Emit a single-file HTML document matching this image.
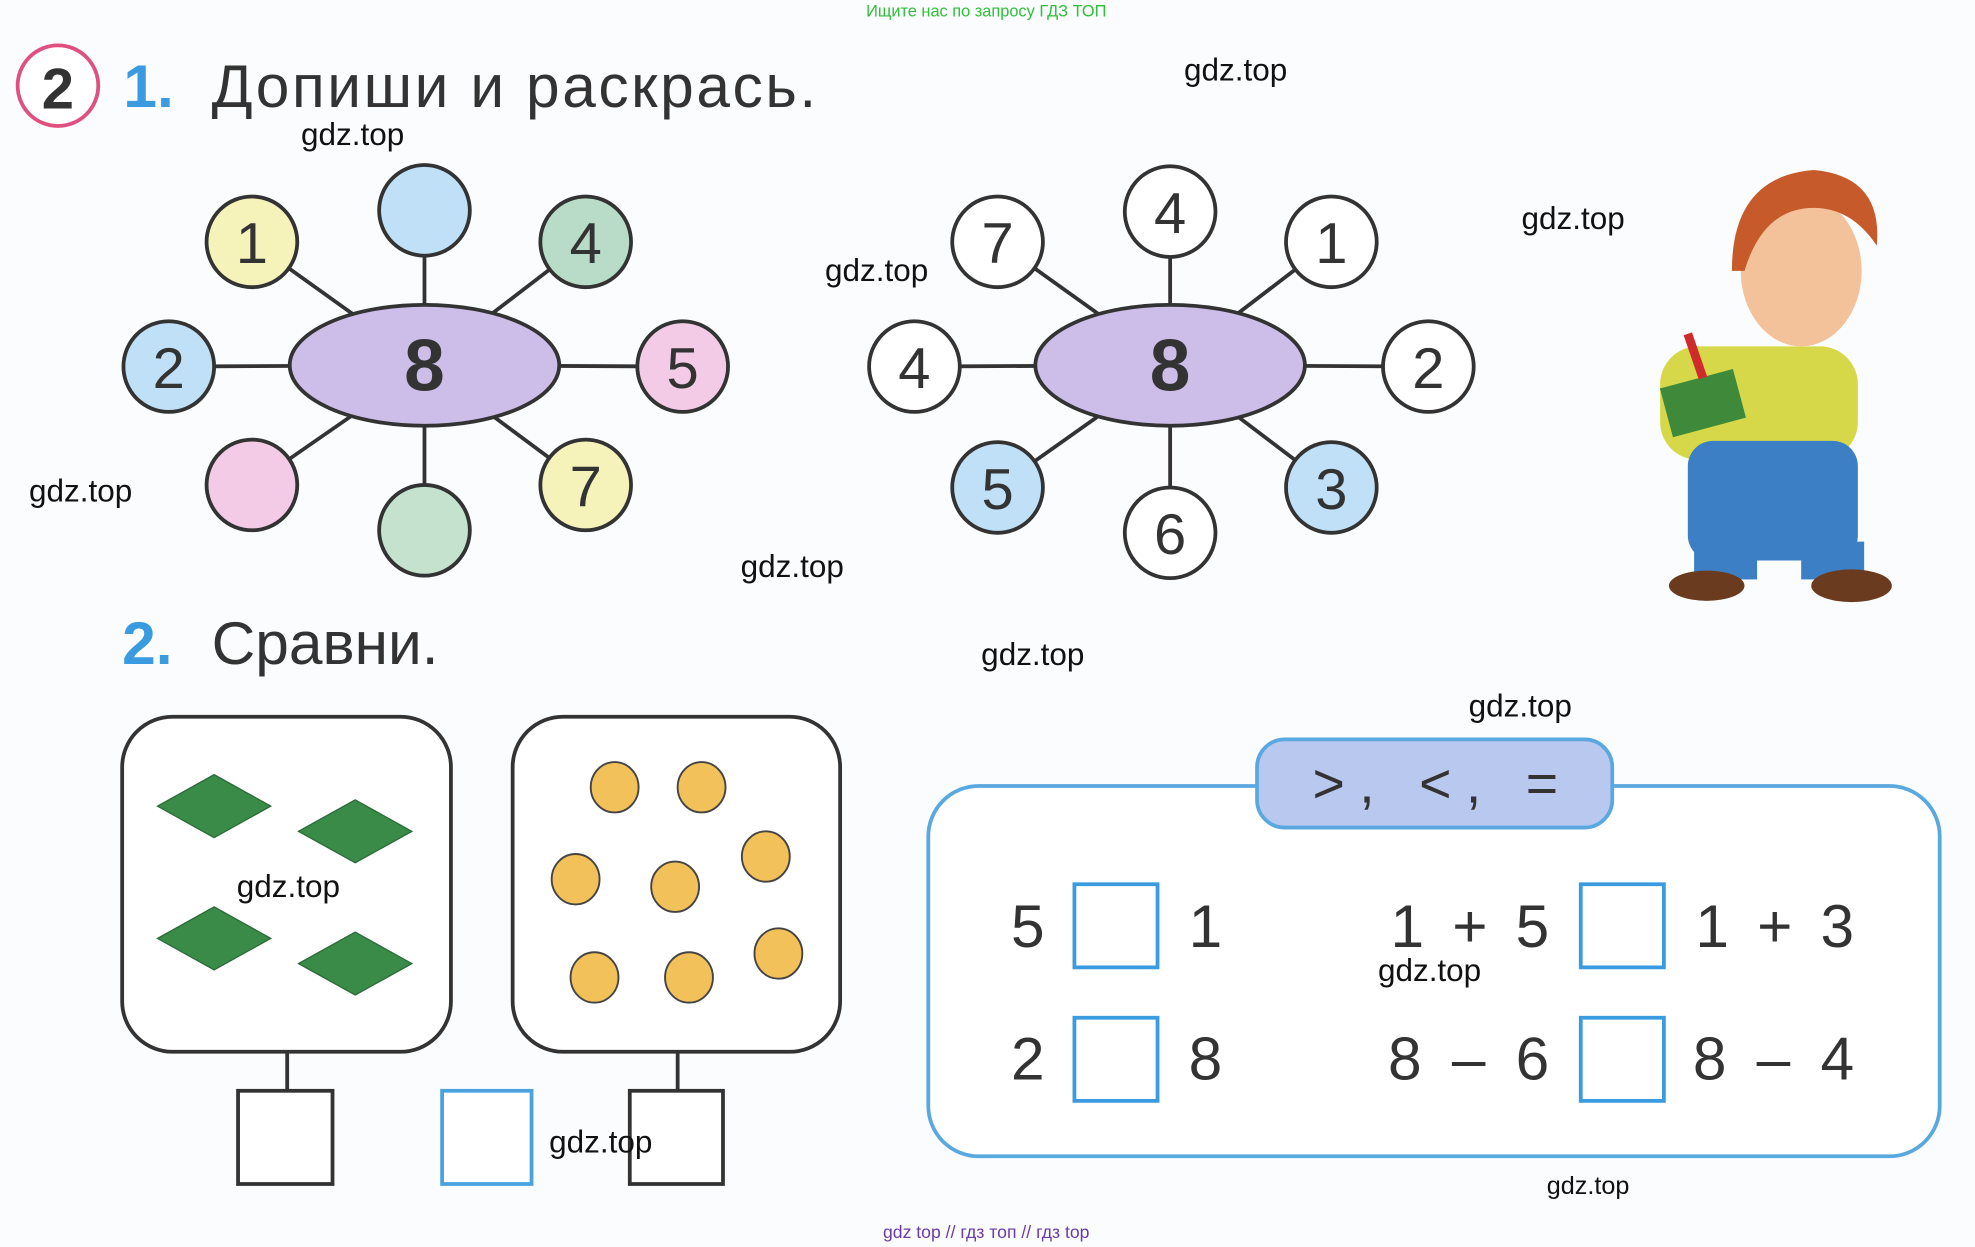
<!DOCTYPE html>
<html><head><meta charset="utf-8"><style>html,body{margin:0;padding:0;background:#fff}svg{display:block}</style></head>
<body>
<svg width="1975" height="1247" viewBox="0 0 1568 990" xmlns="http://www.w3.org/2000/svg" font-family="Liberation Sans, DejaVu Sans, sans-serif">
<rect width="1568" height="990" fill="#fbfcfd"/>
<text x="783" y="13" font-size="13" fill="#2fbf3a" text-anchor="middle">Ищите нас по запросу ГДЗ ТОП</text>
<circle cx="46" cy="68" r="32" fill="#fff" stroke="#e0507f" stroke-width="3"/>
<text x="46" y="86" font-size="46" font-weight="bold" fill="#333" text-anchor="middle">2</text>
<text x="98" y="85" font-size="48" font-weight="bold" fill="#3a9be0">1.</text>
<text x="168" y="85" font-size="48" fill="#333" textLength="480" lengthAdjust="spacing">Допиши  и  раскрась.</text>

<g stroke="#333" stroke-width="3">
<line x1="337" y1="290" x2="200" y2="192"/><line x1="337" y1="290" x2="337" y2="167"/><line x1="337" y1="290" x2="465" y2="192"/>
<line x1="337" y1="290" x2="134" y2="291"/><line x1="337" y1="290" x2="542" y2="291"/><line x1="337" y1="290" x2="200" y2="385"/>
<line x1="337" y1="290" x2="337" y2="421"/><line x1="337" y1="290" x2="465" y2="385"/>
<line x1="929" y1="290" x2="792" y2="192"/><line x1="929" y1="290" x2="929" y2="168"/><line x1="929" y1="290" x2="1057" y2="192"/>
<line x1="929" y1="290" x2="726" y2="291"/><line x1="929" y1="290" x2="1134" y2="291"/><line x1="929" y1="290" x2="792" y2="387"/>
<line x1="929" y1="290" x2="929" y2="423"/><line x1="929" y1="290" x2="1057" y2="387"/>
<ellipse cx="337" cy="290" rx="107" ry="48" fill="#cdbde9"/>
<ellipse cx="929" cy="290" rx="107" ry="48" fill="#cdbde9"/>
<circle cx="200" cy="192" r="36" fill="#f5f3ba"/><circle cx="337" cy="167" r="36" fill="#bfe0f6"/><circle cx="465" cy="192" r="36" fill="#b9dcc8"/>
<circle cx="134" cy="291" r="36" fill="#bfe0f6"/><circle cx="542" cy="291" r="36" fill="#f3cbe6"/><circle cx="200" cy="385" r="36" fill="#f3cbe6"/>
<circle cx="337" cy="421" r="36" fill="#c5e2cf"/><circle cx="465" cy="385" r="36" fill="#f5f3ba"/>
<circle cx="792" cy="192" r="36" fill="#fff"/><circle cx="929" cy="168" r="36" fill="#fff"/><circle cx="1057" cy="192" r="36" fill="#fff"/>
<circle cx="726" cy="291" r="36" fill="#fff"/><circle cx="1134" cy="291" r="36" fill="#fff"/><circle cx="792" cy="387" r="36" fill="#bfe0f6"/>
<circle cx="929" cy="423" r="36" fill="#fff"/><circle cx="1057" cy="387" r="36" fill="#bfe0f6"/>
</g>
<g font-size="46" fill="#333" text-anchor="middle">
<text x="337" y="310" font-size="58" font-weight="bold">8</text><text x="929" y="310" font-size="58" font-weight="bold">8</text>
<text x="200" y="209">1</text><text x="465" y="209">4</text><text x="134" y="308">2</text><text x="542" y="308">5</text><text x="465" y="402">7</text>
<text x="792" y="209">7</text><text x="929" y="185">4</text><text x="1057" y="209">1</text><text x="726" y="308">4</text><text x="1134" y="308">2</text>
<text x="792" y="404">5</text><text x="929" y="440">6</text><text x="1057" y="404">3</text>
</g>

<text x="97" y="527" font-size="48" font-weight="bold" fill="#3a9be0">2.</text>
<text x="168" y="527" font-size="48" fill="#333">Сравни.</text>

<g stroke="#333" stroke-width="3" fill="#fff">
<rect x="97" y="569" width="261" height="266" rx="40"/>
<rect x="407" y="569" width="260" height="266" rx="40"/>
<line x1="228" y1="835" x2="228" y2="866"/><line x1="538" y1="835" x2="538" y2="866"/>
<rect x="189" y="866" width="75" height="74"/><rect x="500" y="866" width="74" height="74"/>
</g>
<rect x="351" y="866" width="71" height="74" fill="#fff" stroke="#4aa3df" stroke-width="3"/>
<g fill="#3a8a48" stroke="#2a6a38" stroke-width="1">
<polygon points="125,640 170,615 215,640 170,665"/><polygon points="237,660 282,635 327,660 282,685"/>
<polygon points="125,745 170,720 215,745 170,770"/><polygon points="237,765 282,740 327,765 282,790"/>
</g>
<g fill="#f2c15a" stroke="#444" stroke-width="1.5">
<ellipse cx="488" cy="625" rx="19" ry="20"/><ellipse cx="557" cy="625" rx="19" ry="20"/><ellipse cx="608" cy="680" rx="19" ry="20"/>
<ellipse cx="457" cy="698" rx="19" ry="20"/><ellipse cx="536" cy="704" rx="19" ry="20"/><ellipse cx="618" cy="757" rx="19" ry="20"/>
<ellipse cx="472" cy="776" rx="19" ry="20"/><ellipse cx="547" cy="776" rx="19" ry="20"/>
</g>

<rect x="737" y="624" width="803" height="294" rx="40" fill="#fff" stroke="#5aa8e0" stroke-width="3"/>
<rect x="998" y="587" width="282" height="70" rx="22" fill="#b9c8ef" stroke="#5aa8e0" stroke-width="3"/>
<text x="1042" y="637" font-size="44" fill="#333" textLength="195" lengthAdjust="spacing">&gt;, &lt;, =</text>
<g fill="none" stroke="#3a9be0" stroke-width="3">
<rect x="853" y="702" width="66" height="66"/><rect x="1255" y="702" width="66" height="66"/>
<rect x="853" y="808" width="66" height="66"/><rect x="1255" y="808" width="66" height="66"/>
</g>
<g font-size="48" fill="#333">
<text x="816" y="752" text-anchor="middle">5</text><text x="957" y="752" text-anchor="middle">1</text>
<text x="1104" y="752" textLength="126" lengthAdjust="spacing">1 + 5</text><text x="1346" y="752" textLength="126" lengthAdjust="spacing">1 + 3</text>
<text x="816" y="857" text-anchor="middle">2</text><text x="957" y="857" text-anchor="middle">8</text>
<text x="1102" y="857" textLength="128" lengthAdjust="spacing">8 – 6</text><text x="1344" y="857" textLength="128" lengthAdjust="spacing">8 – 4</text>
</g>

<!-- boy -->
<g>
<ellipse cx="1430" cy="215" rx="48" ry="60" fill="#f4c29a"/>
<path d="M1375 215 Q1375 140 1440 135 Q1495 140 1490 195 Q1470 165 1440 165 Q1400 165 1385 215Z" fill="#c75a2a"/>
<rect x="1318" y="275" width="157" height="90" rx="30" fill="#d6d84a"/>
<rect x="1340" y="350" width="135" height="95" rx="20" fill="#3c7fc4"/>
<rect x="1345" y="430" width="50" height="30" fill="#3c7fc4"/><rect x="1430" y="430" width="50" height="30" fill="#3c7fc4"/>
<ellipse cx="1355" cy="465" rx="30" ry="12" fill="#6b3b1f"/><ellipse cx="1470" cy="465" rx="32" ry="13" fill="#6b3b1f"/>
<rect x="1322" y="300" width="60" height="40" fill="#3e8a3a" transform="rotate(-15 1352 320)"/>
<line x1="1340" y1="265" x2="1352" y2="300" stroke="#d02b2b" stroke-width="7"/>
</g>

<g font-size="25" fill="#111">
<text x="940" y="64">gdz.top</text><text x="239" y="115">gdz.top</text><text x="1208" y="182">gdz.top</text>
<text x="655" y="223">gdz.top</text><text x="23" y="398">gdz.top</text><text x="588" y="458">gdz.top</text>
<text x="779" y="528">gdz.top</text><text x="1166" y="569">gdz.top</text><text x="188" y="712">gdz.top</text>
<text x="1094" y="779">gdz.top</text><text x="436" y="915">gdz.top</text><text x="1228" y="948" font-size="20">gdz.top</text>
</g>
<text x="783" y="983" font-size="14" fill="#6a3aa8" text-anchor="middle">gdz top  //  гдз топ  //  гдз top</text>
</svg>
</body></html>
